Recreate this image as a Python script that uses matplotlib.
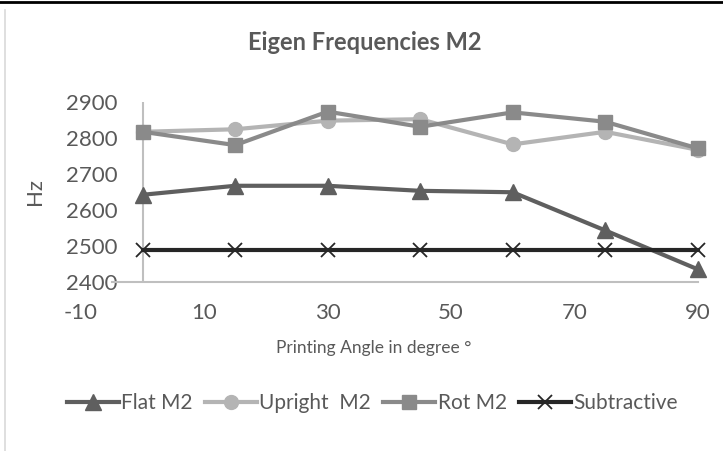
import matplotlib.pyplot as plt
from matplotlib.lines import Line2D

plt.rcParams['font.family'] = ['Lato', 'DejaVu Sans']
plt.rcParams['axes.unicode_minus'] = False

# printing angles and measured second eigen frequency (Hz)
angles = [0, 15, 30, 45, 60, 75, 90]
flat_m2 = [2642, 2667, 2667, 2653, 2649, 2543, 2435]
upright_m2 = [2817, 2824, 2848, 2852, 2782, 2817, 2767]
rot_m2 = [2817, 2780, 2873, 2831, 2871, 2845, 2771]
subtractive = [2489, 2489, 2489, 2489, 2489, 2489, 2489]

x_ticks = [-10, 10, 30, 50, 70, 90]
y_ticks = [2400, 2500, 2600, 2700, 2800, 2900]

text_col = '#595959'
axis_col = '#bfbfbf'

fig = plt.figure(figsize=(7.23, 4.51), dpi=100)
ax = fig.add_axes([0.112, 0.375, 0.853, 0.399])

lw = 3.0
ax.plot(angles, flat_m2, color='#5f5f5f', lw=lw, marker='^', ms=11,
        label='Flat M2', clip_on=False, zorder=3)
ax.plot(angles, upright_m2, color='#b4b4b4', lw=lw, marker='o', ms=10,
        label='Upright  M2', clip_on=False, zorder=3)
ax.plot(angles, rot_m2, color='#8a8a8a', lw=lw, marker='s', ms=10,
        label='Rot M2', clip_on=False, zorder=4)
ax.plot(angles, subtractive, color='#262626', lw=lw, marker='x', ms=10,
        mew=1.3, label='Subtractive', clip_on=False, zorder=3)

ax.set_xlim(-10, 90)
ax.set_ylim(2400, 2900)
ax.set_xticks(x_ticks)
ax.set_yticks(y_ticks)

# vertical axis crosses at x = 0
ax.axvline(0, color=axis_col, lw=1.5, zorder=1)
for side in ['left', 'right', 'top']:
    ax.spines[side].set_visible(False)
ax.spines['bottom'].set_color(axis_col)
ax.spines['bottom'].set_linewidth(1.5)
ax.spines['bottom'].set_bounds(-5, 90)

ax.tick_params(axis='both', length=0, labelsize=16, labelcolor=text_col)
ax.tick_params(axis='y', pad=-26.5)
ax.tick_params(axis='x', pad=15)

ax.set_xlabel('Printing Angle in degree °', fontsize=12.5, color=text_col)
ax.xaxis.set_label_coords(0.475, -0.325)
ax.set_ylabel('Hz', fontsize=16, color=text_col)
ax.yaxis.set_label_coords(-0.058, 0.5)

fig.text(0.505, 1 - 42 / 451, 'Eigen Frequencies M2', ha='center', va='center',
         fontsize=17, fontweight='bold', color=text_col)

leg = fig.legend(loc='center', bbox_to_anchor=(0.515, 1 - 403 / 451), ncol=4,
                 frameon=False, fontsize=15, handlelength=2.5,
                 handletextpad=0.1, columnspacing=0.6, labelcolor=text_col)

# page frame lines around the chart
fig.add_artist(Line2D([0, 1], [1 - 2 / 451, 1 - 2 / 451], color='black', lw=2))
fig.add_artist(Line2D([5 / 723, 5 / 723], [0, 1 - 10 / 451], color='#d9d9d9', lw=1.2))

fig.savefig('out.png', dpi=100)
